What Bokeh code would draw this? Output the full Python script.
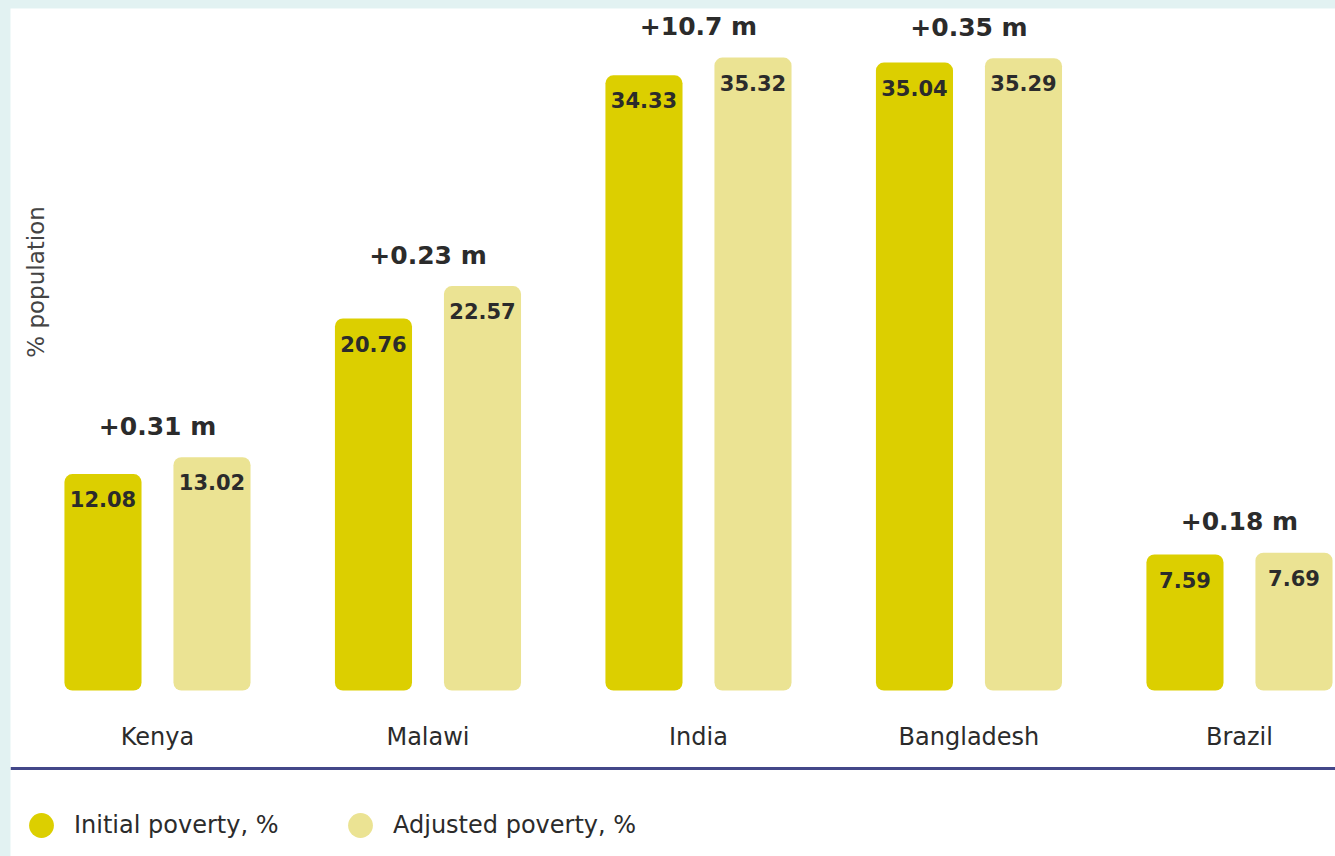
import math
from bokeh.plotting import figure
from bokeh.models import (ColumnDataSource, Range1d, FixedTicker, Legend, LegendItem,
                          LinearAxis)
from bokeh.layouts import column
from bokeh.core.properties import value
from bokeh.transform import dodge
from bokeh.embed import file_html
from bokeh.resources import INLINE

# ---- data ----
countries = ["Kenya", "Malawi", "India", "Bangladesh", "Brazil"]
initial = [12.08, 20.76, 34.33, 35.04, 7.59]
adjusted = [13.02, 22.57, 35.32, 35.29, 7.69]
deltas = ["+0.31 m", "+0.23 m", "+10.7 m", "+0.35 m", "+0.18 m"]
series_names = ["Initial poverty, %", "Adjusted poverty, %"]

# ---- style ----
INIT_COLOR = "#dccf00"
ADJ_COLOR = "#ebe393"
TEXT = "#2b2b2b"
NAVY = "#434789"
FONT = "DejaVu Sans"
BG = "#e2f2f2"

idx = list(range(len(countries)))
src = ColumnDataSource(dict(
    x=idx,
    initial=initial,
    adjusted=adjusted,
    init_lbl=[f"{v:.2f}" for v in initial],
    adj_lbl=[f"{v:.2f}" for v in adjusted],
    delta=deltas,
    top=[max(a, b) for a, b in zip(initial, adjusted)],
))

FRAME_W, FRAME_H = 1325, 848
X0, X1 = -0.5434, 4.355
Y0, Y1 = -9.263, 38.06
PPU_X = FRAME_W / (X1 - X0)
PPU_Y = FRAME_H / (Y1 - Y0)
BASELINE_GAP_PX = 78  # distance from the zero line down to the navy rule

p = figure(width=FRAME_W, height=FRAME_H, x_range=Range1d(X0, X1), y_range=Range1d(Y0, Y1),
           output_backend="svg", toolbar_location=None,
           min_border_left=0, min_border_right=0, min_border_top=0, min_border_bottom=0)
p.margin = (8, 0, 0, 10)
p.background_fill_color = "white"
p.border_fill_color = "white"
p.outline_line_color = None
p.xgrid.visible = False
p.ygrid.visible = False
p.yaxis.visible = False

OFF = 0.2015
BW = 0.285
r_init = p.vbar(x=dodge("x", -OFF), top="initial", bottom=0, width=BW, source=src,
                fill_color=INIT_COLOR, line_color=None, border_radius=8)
r_adj = p.vbar(x=dodge("x", OFF), top="adjusted", bottom=0, width=BW, source=src,
               fill_color=ADJ_COLOR, line_color=None, border_radius=8)

common = dict(text_font=value(FONT), text_color=TEXT, text_align="center",
              text_baseline="middle")
p.text(x=dodge("x", -OFF), y="initial", text="init_lbl", source=src, y_offset=25,
       text_font_size="21px", text_font_style="bold", **common)
p.text(x=dodge("x", OFF), y="adjusted", text="adj_lbl", source=src, y_offset=25,
       text_font_size="21px", text_font_style="bold", **common)
p.text(x="x", y="top", text="delta", source=src, y_offset=-31,
       text_font_size="25px", text_font_style="bold", **common)

# y-axis title
p.text(x=[X0 + 25 / PPU_X], y=[22.8], text=["% population"], angle=math.pi / 2,
       text_font_size="23px", text_font=value(FONT), text_color="#444444",
       text_align="center", text_baseline="middle")

# category axis sitting on the zero baseline (no line)
xa = p.xaxis[0]
xa.fixed_location = 0
xa.ticker = FixedTicker(ticks=idx)
xa.major_label_overrides = {i: c for i, c in zip(idx, countries)}
xa.axis_line_color = None
xa.major_tick_line_color = None
xa.minor_tick_line_color = None
xa.major_tick_out = 0
xa.major_tick_in = 0
xa.major_label_standoff = 32
xa.major_label_text_font = FONT
xa.major_label_text_font_size = "24px"
xa.major_label_text_color = TEXT

# navy rule below the categories
rule = LinearAxis(fixed_location=-BASELINE_GAP_PX / PPU_Y, ticker=FixedTicker(ticks=[]),
                  axis_line_color=NAVY, axis_line_width=3,
                  major_tick_line_color=None, minor_tick_line_color=None,
                  major_label_text_alpha=0)
p.add_layout(rule, "below")

# legend
nan = float("nan")
l_init = p.scatter(x=[nan], y=[nan], marker="circle", fill_color=INIT_COLOR, line_color=None)
l_adj = p.scatter(x=[nan], y=[nan], marker="circle", fill_color=ADJ_COLOR, line_color=None)
legend = Legend(items=[LegendItem(label=series_names[0], renderers=[l_init]),
                       LegendItem(label=series_names[1], renderers=[l_adj])],
                orientation="horizontal", location=(0, 0), margin=0, padding=0,
                glyph_width=62, glyph_height=62, label_standoff=2, label_width=255,
                spacing=0, border_line_color=None, background_fill_alpha=0,
                label_text_font=FONT, label_text_font_size="24px", label_text_color=TEXT)
p.add_layout(legend, "center")

layout = column(p, styles={"background-color": BG})
open("out.html", "w").write(file_html(layout, INLINE))
